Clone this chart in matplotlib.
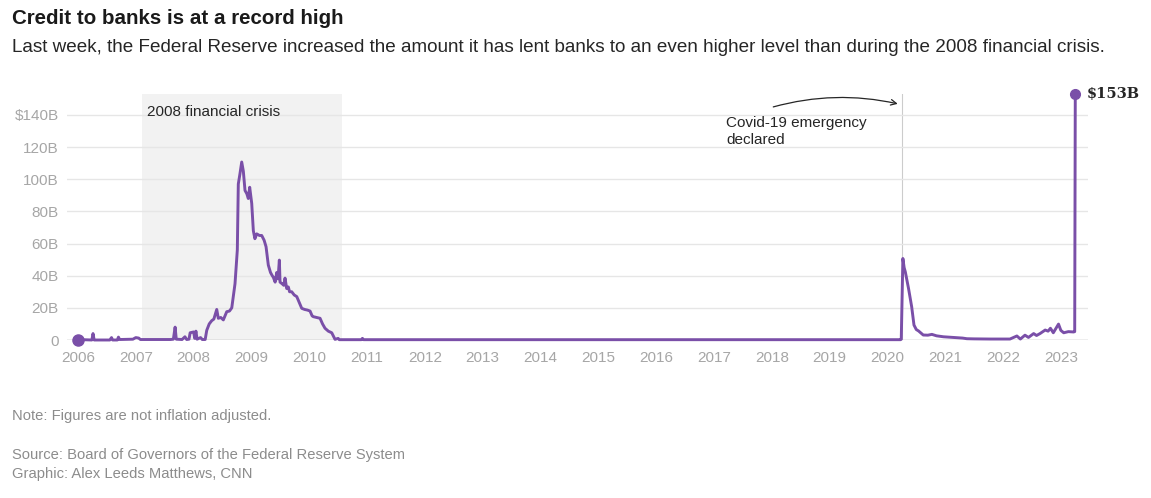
import matplotlib.pyplot as plt

plt.rcParams['font.family'] = ['Liberation Sans', 'DejaVu Sans']

# weekly Fed credit to banks (decimal year, billions $)
years = [2006.00, 2006.24, 2006.26, 2006.28, 2006.55, 2006.58, 2006.60, 2006.68, 2006.70, 2006.72,
         2006.95, 2007.00, 2007.05, 2007.08, 2007.60, 2007.65, 2007.68, 2007.70, 2007.80, 2007.85,
         2007.88, 2007.92, 2007.94, 2008.00, 2008.02, 2008.04, 2008.06, 2008.12, 2008.15, 2008.20,
         2008.227, 2008.27, 2008.313, 2008.35, 2008.40, 2008.427, 2008.47, 2008.514, 2008.573, 2008.62,
         2008.66, 2008.716, 2008.756, 2008.773, 2008.80, 2008.832, 2008.86, 2008.889, 2008.92, 2008.946,
         2008.97, 2009.005, 2009.033, 2009.06, 2009.092, 2009.14, 2009.178, 2009.22, 2009.253, 2009.292,
         2009.33, 2009.36, 2009.379, 2009.41, 2009.438, 2009.46, 2009.483, 2009.495, 2009.53, 2009.56,
         2009.581, 2009.61, 2009.638, 2009.66, 2009.697, 2009.74, 2009.784, 2009.83, 2009.87, 2009.92,
         2009.97, 2010.014, 2010.05, 2010.071, 2010.13, 2010.187, 2010.23, 2010.273, 2010.33, 2010.389,
         2010.446, 2010.50, 2010.52, 2010.90, 2010.92, 2010.94, 2020.23, 2020.24, 2020.268, 2020.29,
         2020.31, 2020.366, 2020.42, 2020.46, 2020.50, 2020.54, 2020.62, 2020.70, 2020.77, 2020.85,
         2020.97, 2021.05, 2021.20, 2021.30, 2021.375, 2021.50, 2021.78, 2022.12, 2022.24, 2022.30,
         2022.38, 2022.44, 2022.53, 2022.58, 2022.64, 2022.73, 2022.78, 2022.82, 2022.87, 2022.96,
         2023.00, 2023.05, 2023.13, 2023.22, 2023.24, 2023.25]
credit = [0.3, 0, 4, 0, 0, 1.5, 0, 0, 1.8, 0.3,
          0.5, 1.5, 1.2, 0.3, 0.3, 0.5, 8, 0.5, 0.3, 2,
          0.3, 0.5, 4.5, 5, 1, 5.5, 0.5, 1.5, 0.3, 0.3,
          6, 10, 12, 13, 19, 13.5, 14, 12.5, 17.6, 18,
          20, 35, 56, 97, 103, 110.7, 105, 93, 91, 88,
          95, 85, 68, 63, 66, 65, 65, 62, 58, 46.6,
          42, 40, 39, 36, 42, 38, 49.7, 36, 35, 34,
          38.5, 32, 33, 30, 30, 28, 27, 23, 19.7, 19,
          18.6, 18, 15, 14.5, 14, 13.5, 10, 7.3, 5.5, 4.5,
          0.4, 1, 0.2, 0.2, 1, 0.2, 0.2, 0.5, 50.7, 45,
          42.4, 32, 20.7, 9.3, 6.5, 5.6, 3.1, 3.0, 3.5, 2.6,
          2, 1.8, 1.4, 1.2, 0.8, 0.7, 0.6, 0.6, 2.5, 0.6,
          3, 1.6, 4, 2.8, 4, 6.2, 5.5, 7.3, 4.5, 9.9,
          6, 4.5, 5.2, 5.0, 5.2, 153]

year_ticks = list(range(2006, 2024))
y_ticks = [0, 20, 40, 60, 80, 100, 120, 140]
y_labels = ['0', '20B', '40B', '60B', '80B', '100B', '120B', '$140B']

crisis_start, crisis_end = 2007.107, 2010.567
covid_date = 2020.256

purple = '#7a4fa8'
grey_txt = '#a6a6a6'
dark = '#262626'

fig = plt.figure(figsize=(11.51, 4.98), dpi=100)
ax = fig.add_axes([67 / 1151, 1 - 340 / 498, (1088 - 67) / 1151, (340 - 94) / 498])

ax.set_xlim(2005.81, 2023.47)
ax.set_ylim(0, 153)

ax.axvspan(crisis_start, crisis_end, color='#f2f2f2', zorder=0, lw=0)
ax.axvline(covid_date, color='#cccccc', lw=0.8, zorder=1)

for y in y_ticks[1:]:
    ax.axhline(y, color='#e6e6e6', lw=1, zorder=1)
ax.axhline(0, color='#aaaaaa', lw=1, zorder=1)

ax.plot(years, credit, color=purple, lw=2.1, zorder=3, clip_on=False, solid_joinstyle='round')
ax.plot([years[0]], [credit[0]], 'o', color=purple, ms=8, zorder=4, clip_on=False)
ax.plot([years[-1]], [credit[-1]], 'o', color=purple, ms=7, zorder=4, clip_on=False)

for s in ax.spines.values():
    s.set_visible(False)
ax.set_xticks(year_ticks)
ax.set_xticklabels([str(y) for y in year_ticks])
ax.set_yticks(y_ticks)
ax.set_yticklabels(y_labels)
ax.tick_params(length=0, labelsize=11, colors=grey_txt)
ax.tick_params(axis='y', pad=6)
ax.tick_params(axis='x', pad=8)

ax.text(crisis_start + 0.08, 146, '2008 financial crisis', fontsize=11, color=dark, va='top')
ax.text(2017.21, 139.5, 'Covid-19 emergency\ndeclared', fontsize=11, color=dark, va='top',
        linespacing=1.3)
ax.annotate('', xy=(covid_date - 0.03, 146.5), xytext=(2017.98, 144.5),
            arrowprops=dict(arrowstyle='->', color=dark, lw=0.9,
                            connectionstyle='arc3,rad=-0.13'))
ax.text(years[-1] + 0.2, credit[-1], '$153B', fontsize=10.5, color=dark, fontweight='bold',
        va='center', family=['DejaVu Serif'])

fig.text(12 / 1151, 1 - 18 / 498, 'Credit to banks is at a record high', fontsize=14.8,
         fontweight='bold', color='#1a1a1a', va='center')
fig.text(12 / 1151, 1 - 47 / 498,
         'Last week, the Federal Reserve increased the amount it has lent banks to an even higher '
         'level than during the 2008 financial crisis.', fontsize=13.55, color=dark, va='center')
fig.text(12 / 1151, 1 - 416 / 498, 'Note: Figures are not inflation adjusted.', fontsize=10.6,
         color='#8c8c8c', va='center')
fig.text(12 / 1151, 1 - 455 / 498, 'Source: Board of Governors of the Federal Reserve System',
         fontsize=10.6, color='#8c8c8c', va='center')
fig.text(12 / 1151, 1 - 474 / 498, 'Graphic: Alex Leeds Matthews, CNN', fontsize=10.6,
         color='#8c8c8c', va='center')

fig.savefig('out.png', dpi=100)
